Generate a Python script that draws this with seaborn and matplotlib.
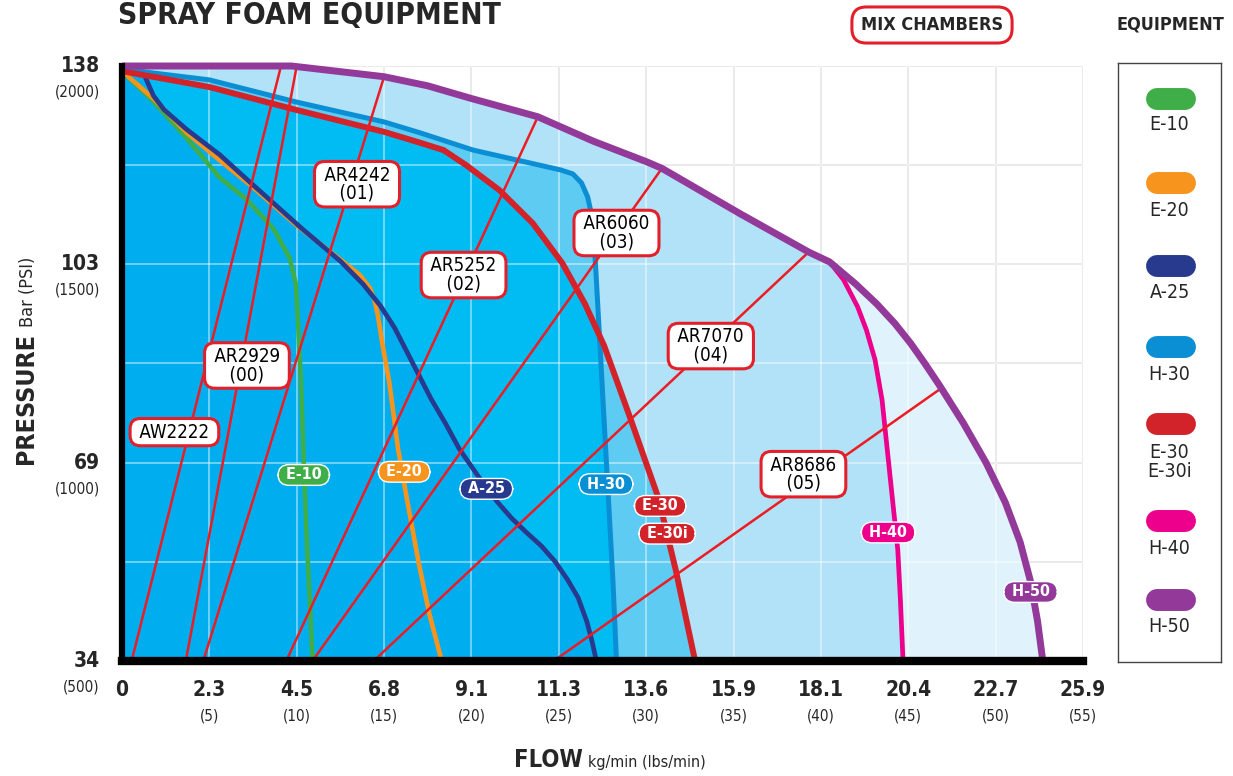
import numpy as np
import pandas as pd
import matplotlib
matplotlib.use('Agg')
import matplotlib.pyplot as plt
from matplotlib import font_manager as fm
import seaborn as sns

sns.set_style('white')

# pick a narrow face if one is installed
entries = [(f.name, f.stretch) for f in fm.fontManager.ttflist]
if any(n == 'DejaVu Sans Condensed' for n, s in entries):
    FAMILY, STRETCH, W = 'DejaVu Sans Condensed', 'normal', 1.0
elif any(n == 'DejaVu Sans' and s in ('condensed', 'semi-condensed') for n, s in entries):
    FAMILY, STRETCH, W = 'DejaVu Sans', 'condensed', 1.0
else:
    FAMILY, STRETCH, W = 'DejaVu Sans', 'normal', 0.9
plt.rcParams['font.family'] = [FAMILY, 'DejaVu Sans']
plt.rcParams['font.stretch'] = STRETCH

# ---- equipment curves (flow lbs/min, pressure psi)
h50_lbs = [0, 9.7, 15.0, 17.5, 20.0, 23.8, 27.0, 30.0, 30.9, 35.4, 39.3, 40.5, 42.0, 43.2, 44.25, 45.15, 45.95, 46.8, 48.15, 49.45, 50.55, 51.4, 52.0, 52.4, 52.7]
h50_psi = [2000, 2000, 1973, 1950, 1918, 1872, 1810, 1759, 1742, 1627, 1531, 1506, 1450, 1400, 1350, 1300, 1250, 1194, 1100, 1000, 900, 800, 700, 600, 500]

h40_lbs = [40.5, 41.3, 42.1, 42.6, 43.1, 43.5, 43.8, 44.1, 44.4, 44.55, 44.7]
h40_psi = [1506, 1461, 1393, 1335, 1259, 1158, 1032, 906, 780, 654, 500]

h30_lbs = [0, 5.0, 10.0, 15.0, 17.1, 20.1, 25.1, 25.8, 26.3, 26.65, 26.85, 26.95, 27.1, 27.35, 27.6, 27.85, 28.1, 28.3]
h30_psi = [1992, 1965, 1909, 1859, 1831, 1788, 1738, 1728, 1705, 1670, 1630, 1590, 1500, 1300, 1100, 900, 700, 500]

e30_lbs = [0, 5.0, 10.0, 15.0, 17.1, 18.4, 19.7, 21.6, 23.5, 25.2, 26.5, 27.6, 29.1, 30.7, 31.7, 32.8]
e30_psi = [1987, 1947, 1889, 1834, 1806, 1788, 1750, 1687, 1604, 1503, 1400, 1294, 1111, 911, 728, 500]

a25_lbs = [1.2, 1.45, 1.8, 2.4, 3.7, 5.6, 7.3, 10.3, 12.5, 13.8, 14.8, 15.6, 16.3, 17.0, 17.7, 18.5, 19.3, 20.4, 21.5, 22.3, 23.1, 24.0, 24.8, 25.5, 26.1, 26.6, 26.9, 27.15]
a25_psi = [1986, 1960, 1925, 1890, 1840, 1776, 1708, 1590, 1508, 1450, 1395, 1340, 1280, 1220, 1160, 1100, 1035, 965, 900, 860, 826, 790, 750, 705, 660, 600, 550, 500]

e20_lbs = [0, 1.8, 3.7, 5.6, 7.4, 10.0, 12.5, 13.6, 14.2, 14.45, 14.65, 14.9, 15.3, 15.8, 16.3, 17.0, 17.6, 18.3]
e20_psi = [1987, 1918, 1832, 1762, 1698, 1598, 1512, 1474, 1440, 1410, 1370, 1300, 1202, 1035, 910, 743, 617, 500]

e10_lbs = [0, 1.8, 3.7, 5.6, 7.1, 8.7, 9.6, 9.95, 10.1, 10.25, 10.4, 10.6, 10.75, 10.9]
e10_psi = [1987, 1910, 1818, 1718, 1665, 1588, 1515, 1450, 1330, 1200, 1000, 780, 650, 500]

# ---- mix chamber lines: bottom flow at 500 psi, top end on the H-50 curve
mix_names = ['AW2222', 'AR2929\n(00)', 'AR4242\n(01)', 'AR5252\n(02)', 'AR6060\n(03)', 'AR7070\n(04)', 'AR8686\n(05)']
mix_lbs0 = [0.55, 3.65, 4.65, 9.4, 10.9, 14.4, 24.7]
mix_lbs1 = [9.1, 10.0, 15.0, 23.8, 30.9, 39.3, 46.9]
mix_psi1 = [2000, 2000, 1973, 1872, 1742, 1531, 1188]
mix_lab_lbs = [3.0, 7.15, 13.45, 19.55, 28.3, 33.7, 39.0]
mix_lab_psi = [1077, 1245, 1702, 1473, 1579, 1294, 971]

# ---- equipment tags on the chart
tag_names = ['E-10', 'E-20', 'A-25', 'H-30', 'E-30', 'E-30i', 'H-40', 'H-50']
tag_lbs = [10.4, 16.15, 20.85, 27.7, 30.8, 31.2, 43.85, 52.0]
tag_psi = [969, 977, 934, 946, 891, 821, 824, 674]

# ---- legend
legend_names = ['E-10', 'E-20', 'A-25', 'H-30', 'E-30\nE-30i', 'H-40', 'H-50']

# ---- axis ticks
x_ticks = [0, 5, 10, 15, 20, 25, 30, 35, 40, 45, 50, 55]
x_kg = ['0', '2.3', '4.5', '6.8', '9.1', '11.3', '13.6', '15.9', '18.1', '20.4', '22.7', '25.9']
y_grid = [500, 750, 1000, 1250, 1500, 1750, 2000]
y_ticks = [500, 1000, 1500, 2000]
y_bar = ['34', '69', '103', '138']

colors = {'E-10': '#3fae49', 'E-20': '#f7941d', 'A-25': '#283a8e', 'H-30': '#0a8fd5',
          'E-30': '#d2232a', 'E-30i': '#d2232a', 'H-40': '#ec008c', 'H-50': '#93399a'}
MIX_RED = '#ed1c24'
BOX_RED = '#e3202a'

fig = plt.figure(figsize=(12.33, 7.76), dpi=100)
ax = fig.add_axes([122/1233, 1-661/776, 961/1233, 595/776])
ax.set_xlim(0, 55)
ax.set_ylim(500, 2000)

# background fills
ax.fill([0] + h50_lbs, [500] + h50_psi, color='#e0f3fc', lw=0, zorder=1)
knee = h50_lbs.index(h40_lbs[0])
ax.fill([0] + h50_lbs[:knee] + h40_lbs, [500] + h50_psi[:knee] + h40_psi, color='#b1e2f7', lw=0, zorder=1.1)
red_poly = ax.fill([0, 0] + e30_lbs, [500, e30_psi[0]] + e30_psi, color='#5ecbf3', lw=0, zorder=1.2)[0]
ax.fill([0, 0] + h30_lbs, [500, h30_psi[0]] + h30_psi, color='#5ecbf3', lw=0, zorder=1.2)
cyan = ax.fill([0, 0] + h30_lbs, [500, h30_psi[0]] + h30_psi, color='#00bcf2', lw=0, zorder=1.3)[0]
cyan.set_clip_path(red_poly)
ax.fill([0, 0] + a25_lbs, [500, a25_psi[0]] + a25_psi, color='#00aeef', lw=0, zorder=1.4)

# grid: gray on white, pale over the blue
ax.set_xticks(x_ticks)
ax.set_yticks(y_grid)
ax.set_xticklabels([])
ax.set_yticklabels([])
ax.tick_params(length=0)
ax.set_axisbelow(True)
ax.grid(True, color='#d2d2d2', lw=1.1)
for x in x_ticks:
    ax.axvline(x, color='white', alpha=0.55, lw=1.1, zorder=1.5)
for y in y_grid:
    ax.axhline(y, color='white', alpha=0.55, lw=1.1, zorder=1.5)

# equipment curves
curves = [('E-10', e10_lbs, e10_psi, 3.3), ('E-20', e20_lbs, e20_psi, 3.3), ('A-25', a25_lbs, a25_psi, 3.4),
          ('H-30', h30_lbs, h30_psi, 3.6), ('E-30', e30_lbs, e30_psi, 4.3), ('H-40', h40_lbs, h40_psi, 3.4)]
for i, (name, xs, ys, lw) in enumerate(curves):
    df = pd.DataFrame({'lbs': xs, 'psi': ys})
    sns.lineplot(data=df, x='lbs', y='psi', sort=False, estimator=None, color=colors[name],
                 lw=lw, ax=ax, zorder=2 + i * 0.1)

# mix chamber lines
for x0, x1, y1 in zip(mix_lbs0, mix_lbs1, mix_psi1):
    ax.plot([x0, x1], [500, y1], color=MIX_RED, lw=1.8, zorder=3.5, solid_capstyle='butt')

df = pd.DataFrame({'lbs': h50_lbs, 'psi': h50_psi})
sns.lineplot(data=df, x='lbs', y='psi', sort=False, estimator=None, color=colors['H-50'], lw=5, ax=ax, zorder=4)
ax.lines[-1].set_clip_on(False)
ax.lines[-1].set_solid_capstyle('butt')
ax.set(xlabel='', ylabel='')

# mix chamber boxes
for name, x, y in zip(mix_names, mix_lab_lbs, mix_lab_psi):
    txt = '\n'.join(' ' + part + ' ' for part in name.split('\n'))
    ax.text(x, y, txt, ha='center', va='center', fontsize=13.5 * W, linespacing=0.95, color='black', zorder=6,
            bbox=dict(boxstyle='round,pad=0.22,rounding_size=0.55', fc='white', ec=BOX_RED, lw=2.2))

# equipment tags
for name, x, y in zip(tag_names, tag_lbs, tag_psi):
    ax.text(x, y, ' ' + name + ' ', ha='center', va='center', fontsize=11.5 * W, fontweight='bold', color='white',
            zorder=6, bbox=dict(boxstyle='round,pad=0.18,rounding_size=0.7', fc=colors[name], ec='white', lw=1))

# spines
sns.despine(ax=ax)
ax.spines['left'].set_linewidth(4.5)
ax.spines['bottom'].set_linewidth(6)
for s in ['left', 'bottom']:
    ax.spines[s].set_color('black')
    ax.spines[s].set_zorder(10)

# tick labels
for x, kg in zip(x_ticks, x_kg):
    ax.annotate(kg, xy=(x, 0), xycoords=('data', 'axes fraction'), xytext=(0, -29 * 0.72),
                textcoords='offset points', ha='center', va='center', fontsize=15 * W, fontweight='bold')
    if x > 0:
        ax.annotate(f'({x})', xy=(x, 0), xycoords=('data', 'axes fraction'), xytext=(0, -55 * 0.72),
                    textcoords='offset points', ha='center', va='center', fontsize=11 * W)
for y, bar in zip(y_ticks, y_bar):
    ax.annotate(bar, xy=(0, y), xycoords=('axes fraction', 'data'), xytext=(-22 * 0.72, 0),
                textcoords='offset points', ha='right', va='center', fontsize=15 * W, fontweight='bold')
    ax.annotate(f'({y})', xy=(0, y), xycoords=('axes fraction', 'data'), xytext=(-22 * 0.72, -26 * 0.72),
                textcoords='offset points', ha='right', va='center', fontsize=11 * W)

# axis titles
t_p = fig.text(33/1233, 1-464/776, 'PRESSURE', rotation=90, rotation_mode='anchor', ha='left', va='baseline',
               fontsize=18 * W, fontweight='bold')
fig.canvas.draw()
ext = t_p.get_window_extent()
fig.text(33/1233, (ext.y1 + 6) / 776, 'Bar (PSI)', rotation=90, rotation_mode='anchor', ha='left',
         va='baseline', fontsize=13 * W)
t_f = fig.text(514/1233, 1-767/776, 'FLOW', ha='left', va='baseline', fontsize=17 * W, fontweight='bold')
ext = t_f.get_window_extent()
fig.text((ext.x1 + 5) / 1233, 1-767/776, 'kg/min (lbs/min)', ha='left', va='baseline', fontsize=11.5 * W)

# title and headers
fig.text(118/1233, 1-15/776, 'SPRAY FOAM EQUIPMENT', ha='left', va='center', fontsize=21.5 * W, fontweight='bold')
fig.text(932/1233, 1-25/776, 'MIX CHAMBERS', ha='center', va='center', fontsize=13 * W, fontweight='bold',
         bbox=dict(boxstyle='round,pad=0.5,rounding_size=0.8', fc='white', ec=BOX_RED, lw=2.2))
fig.text(1170/1233, 1-24/776, 'EQUIPMENT', ha='center', va='center', fontsize=13 * W, fontweight='bold')

# legend panel
lax = fig.add_axes([1118/1233, 1-662/776, 103/1233, 599/776])
lax.set_xlim(0, 1)
lax.set_ylim(0, 1)
lax.set_xticks([])
lax.set_yticks([])
for s in lax.spines.values():
    s.set_linewidth(1)
    s.set_color('#444444')
pill_px = [99, 183, 265.5, 347, 423.5, 521, 600]
label_px = [124, 211, 293, 375, 462, 548, 627]
for name, py, ly in zip(legend_names, pill_px, label_px):
    key = name.split('\n')[0]
    lax.plot([0.38, 0.65], [(662 - py) / 599] * 2, color=colors[key], lw=15.8, solid_capstyle='round')
    lax.text(0.5, (662 - ly) / 599, name, ha='center', va='center', fontsize=14 * W, linespacing=0.95)

fig.savefig('out.png', dpi=100)
